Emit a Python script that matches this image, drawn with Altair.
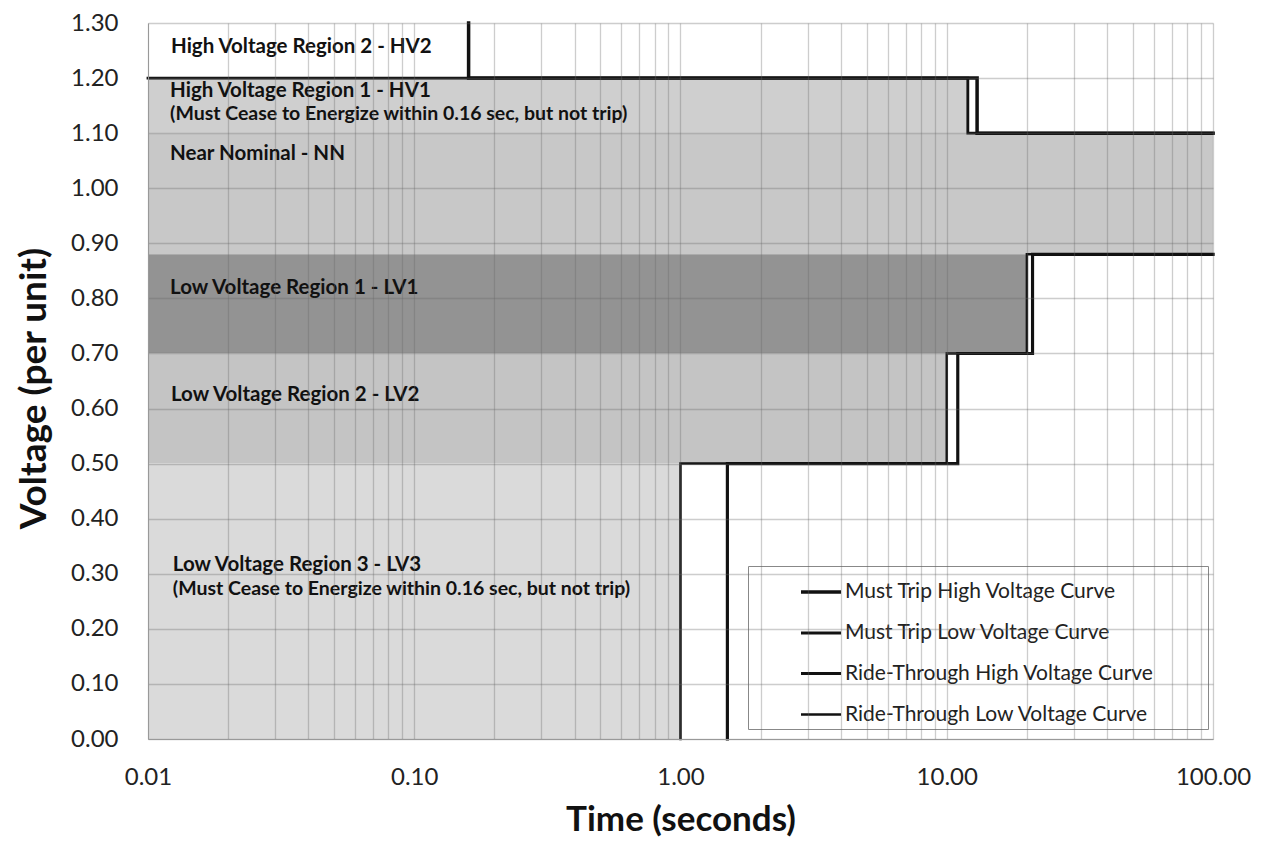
import altair as alt
import pandas as pd

# ---- data ----
series_names = [
    "Must Trip High Voltage Curve",
    "Must Trip Low Voltage Curve",
    "Ride-Through High Voltage Curve",
    "Ride-Through Low Voltage Curve",
]
mt_hv_t = [0.16, 0.16, 13, 13, 100]
mt_hv_v = [1.30, 1.20, 1.20, 1.10, 1.10]
mt_lv_t = [100, 21, 21, 11, 11, 1.5, 1.5]
mt_lv_v = [0.88, 0.88, 0.70, 0.70, 0.50, 0.50, 0.00]
rt_hv_t = [0.01, 12, 12, 100]
rt_hv_v = [1.20, 1.20, 1.10, 1.10]
rt_lv_t = [100, 20, 20, 10, 10, 1.0, 1.0]
rt_lv_v = [0.88, 0.88, 0.70, 0.70, 0.50, 0.50, 0.00]

region_names = ["HV2", "HV1", "NN", "LV1", "LV2", "LV3"]
region_t1 = [0.01, 0.01, 0.01, 0.01, 0.01, 0.01]
region_t2 = [0.16, 12, 100, 20, 10, 1.0]
region_v1 = [1.20, 1.10, 0.88, 0.70, 0.50, 0.00]
region_v2 = [1.30, 1.20, 1.10, 0.88, 0.70, 0.50]
region_fill = ["#ffffff", "#cfcfcf", "#c8c8c8", "#939393", "#c4c4c4", "#dadada"]

label_text = [
    "High Voltage Region 2 - HV2",
    "High Voltage Region 1 - HV1",
    "(Must Cease to Energize within 0.16 sec, but not trip)",
    "Near Nominal - NN",
    "Low Voltage Region 1 - LV1",
    "Low Voltage Region 2 - LV2",
    "Low Voltage Region 3 - LV3",
    "(Must Cease to Energize within 0.16 sec, but not trip)",
]
label_t = [0.0122, 0.0121, 0.0121, 0.0121, 0.0121, 0.0122, 0.0124, 0.0124]
label_v = [1.256, 1.176, 1.134, 1.063, 0.818, 0.624, 0.316, 0.272]
label_size = [20.5, 20.5, 19.5, 20.5, 20.5, 20.5, 20.5, 19.5]

decades = [0.01, 0.1, 1, 10]
multipliers = [1, 2, 3, 4, 5, 6, 7, 8, 9]
x_ticks = [d * m for d in decades for m in multipliers] + [100]
y_ticks = [round(i * 0.1, 2) for i in range(14)]

# ---- tables ----
rows = []
for name, ts, vs in zip(series_names,
                        [mt_hv_t, mt_lv_t, rt_hv_t, rt_lv_t],
                        [mt_hv_v, mt_lv_v, rt_hv_v, rt_lv_v]):
    for i, (t, v) in enumerate(zip(ts, vs)):
        rows.append({"series": name, "order": i, "t": t, "v": v})
lines_df = pd.DataFrame(rows)

regions_df = pd.DataFrame({
    "region": region_names, "t1": region_t1, "t2": region_t2,
    "v1": region_v1, "v2": region_v2, "fill": region_fill,
})
labels_df = pd.DataFrame({"text": label_text, "t": label_t, "v": label_v, "size": label_size})

FONT = "Lato"
xscale = alt.Scale(type="log", domain=[0.01, 100], nice=False)
yscale = alt.Scale(domain=[0, 1.3], nice=False, zero=False)

x_axis = alt.Axis(
    values=x_ticks,
    labelExpr="indexof(['0.01','0.10','1.00','10.00','100.00'], format(datum.value, '.2f')) >= 0 ? format(datum.value, '.2f') : ''",
    labelOverlap=False, labelFlush=False, ticks=False, labelPadding=26, labelFontSize=24,
    labelFont=FONT, labelColor="#222", grid=True, gridColor="#666", gridOpacity=0.33,
    gridWidth=1.3, domainColor="#999", title="Time (seconds)", titleFont=FONT,
    titleFontSize=35, titleFontWeight="bold", titleColor="#111", titleY=80,
    titleBaseline="middle", zindex=1,
)
y_axis = alt.Axis(
    values=y_ticks, format=".2f", ticks=False, labelPadding=30, labelFontSize=24,
    labelFont=FONT, labelColor="#222", grid=True, gridColor="#666", gridOpacity=0.33,
    gridWidth=1.3, domainColor="#999", title="Voltage (per unit)", titleFont=FONT,
    titleFontSize=37, titleFontWeight="bold", titleColor="#111", titleX=-114,
    titleY=365, titleBaseline="middle", titleAngle=-90, zindex=1,
)

rects = alt.Chart(regions_df).mark_rect(strokeWidth=0).encode(
    x=alt.X("t1:Q", scale=xscale, axis=x_axis),
    x2="t2:Q",
    y=alt.Y("v1:Q", scale=yscale, axis=y_axis),
    y2="v2:Q",
    fill=alt.Fill("fill:N", scale=None),
)

lines = alt.Chart(lines_df).mark_line(interpolate="linear", strokeCap="square").encode(
    x=alt.X("t:Q", scale=xscale),
    y=alt.Y("v:Q", scale=yscale),
    order="order:O",
    color=alt.Color(
        "series:N",
        scale=alt.Scale(domain=series_names, range=["#111111"] * 4),
        legend=alt.Legend(
            title="\u00a0", titleOrient="right", titlePadding=50, titleFontSize=10,
            orient="none", legendX=600, legendY=543, direction="vertical",
            fillColor="white", strokeColor="#888", padding=4, symbolType="stroke",
            symbolSize=1600, symbolOffset=47, labelOffset=2, labelFont=FONT,
            labelFontSize=21, labelColor="#222", rowPadding=9, labelLimit=500,
        ),
    ),
    strokeWidth=alt.StrokeWidth(
        "series:N",
        scale=alt.Scale(domain=series_names, range=[3.5, 2.5, 2.5, 2.5]),
        legend=alt.Legend(title="\u00a0", orient="none", legendX=600, legendY=543),
    ),
)

texts = alt.Chart(labels_df).mark_text(
    align="left", baseline="middle", font=FONT, fontWeight="bold", color="#111"
).encode(
    x=alt.X("t:Q", scale=xscale),
    y=alt.Y("v:Q", scale=yscale),
    text="text:N",
    size=alt.Size("size:Q", scale=None),
)

chart = alt.layer(rects, lines, texts).properties(
    width=1065, height=716,
    autosize=alt.AutoSizeParams(type="none"),
    padding={"left": 140, "top": 15, "right": 44, "bottom": 100},
).configure_view(stroke=None)

chart.save("out.html", embed_options={"renderer": "svg", "actions": False})
